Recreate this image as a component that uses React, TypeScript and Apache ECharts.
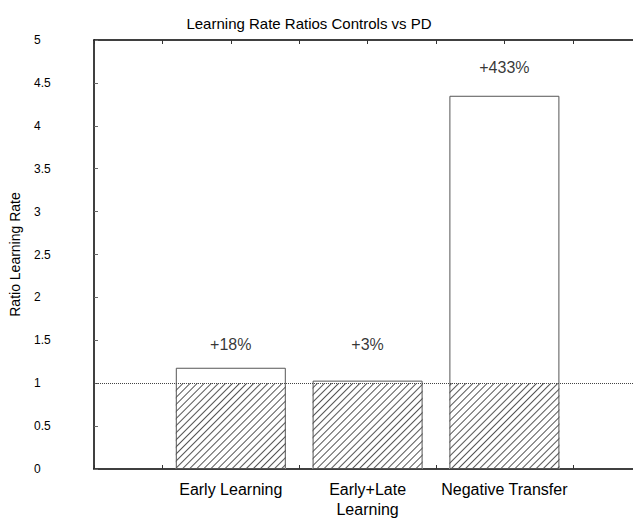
import React, { useEffect, useRef } from "react";
import * as echarts from "echarts";

const categories = ["Early Learning", "Early+Late\nLearning", "Negative Transfer"];
const positions = [2, 4, 6];
const ratios = [1.18, 1.03, 4.35];
const baseline = [1, 1, 1];
const changeLabels = ["+18%", "+3%", "+433%"];
const labelHeights = [1.45, 1.45, 4.68];

const FONT = "Liberation Sans, Arial, sans-serif";

export default function App() {
  const ref = useRef<HTMLDivElement>(null);
  useEffect(() => {
    if (!ref.current) return;
    const chart = echarts.init(ref.current, null, { renderer: "svg" });
    const catMap: Record<number, string> = {};
    positions.forEach((p, i) => (catMap[p] = categories[i]));
    const option: any = {
      animation: false,
      backgroundColor: "#fff",
      title: {
        text: "Learning Rate Ratios Controls vs PD",
        left: 304,
        top: 11,
        textAlign: "center",
        textStyle: { fontFamily: FONT, fontSize: 15, fontWeight: "normal", color: "#000" },
      },
      grid: { left: 91, top: 40, bottom: 45, right: 0 },
      xAxis: [
        {
          type: "value",
          position: "bottom",
          min: 0,
          max: 7.88,
          interval: 1,
          splitLine: { show: false },
          axisLine: { show: true, lineStyle: { color: "#000", width: 1.5 } },
          axisTick: { show: true, inside: true, length: 4, lineStyle: { color: "#333" } },
          axisLabel: {
            margin: 10,
            fontFamily: FONT,
            fontSize: 16,
            color: "#000",
            lineHeight: 20,
            showMaxLabel: false,
            formatter: (v: number) => catMap[v] || "",
          },
        },
        {
          type: "value",
          position: "top",
          min: 0,
          max: 7.88,
          interval: 1,
          splitLine: { show: false },
          axisLine: { show: true, lineStyle: { color: "#000", width: 1.5 } },
          axisTick: { show: true, inside: true, length: 4, lineStyle: { color: "#333" } },
          axisLabel: { show: false },
        },
      ],
      yAxis: {
        type: "value",
        min: 0,
        max: 5,
        interval: 0.5,
        name: "Ratio Learning Rate",
        nameLocation: "middle",
        nameGap: 72,
        nameRotate: 90,
        nameTextStyle: { fontFamily: FONT, fontSize: 14, color: "#000" },
        splitLine: { show: false },
        axisLine: { show: true, lineStyle: { color: "#000", width: 1.5 } },
        axisTick: { show: true, inside: true, length: 4, lineStyle: { color: "#666" } },
        axisLabel: {
          margin: 60,
          align: "left",
          padding: [6, 0, 0, 0],
          fontFamily: FONT,
          fontSize: 12,
          color: "#000",
        },
      },
      series: [
        {
          type: "bar",
          xAxisIndex: 0,
          barWidth: 110,
          barGap: "-100%",
          data: positions.map((p, i) => [p, Math.min(baseline[i], ratios[i])]),
          itemStyle: {
            color: "#fff",
            borderWidth: 0,
            decal: {
              symbol: "rect",
              symbolSize: 1,
              dashArrayX: [1, 0],
              dashArrayY: [1, 4],
              rotation: -Math.PI / 4,
              color: "#555",
              backgroundColor: "#fff",
            },
          },
          markLine: {
            silent: true,
            symbol: "none",
            label: { show: false },
            lineStyle: { type: [1, 1], color: "#444", width: 1 },
            data: [{ yAxis: 1 }],
          },
        },
        {
          type: "bar",
          xAxisIndex: 0,
          barWidth: 110,
          barGap: "-100%",
          z: 3,
          data: positions.map((p, i) => [p, ratios[i]]),
          itemStyle: { color: "rgba(0,0,0,0)", borderColor: "#555", borderWidth: 1 },
        },
        {
          type: "scatter",
          xAxisIndex: 0,
          symbolSize: 0,
          data: positions.map((p, i) => [p, labelHeights[i]]),
          label: {
            show: true,
            position: "inside",
            fontFamily: FONT,
            fontSize: 16,
            color: "#000",
            formatter: (p: any) => changeLabels[p.dataIndex],
          },
        },
      ],
    };
    chart.setOption(option);
    return () => chart.dispose();
  }, []);
  return (
    <div
      ref={ref}
      style={{ position: "absolute", left: 0, top: 0, width: 633, height: 519 }}
    />
  );
}
